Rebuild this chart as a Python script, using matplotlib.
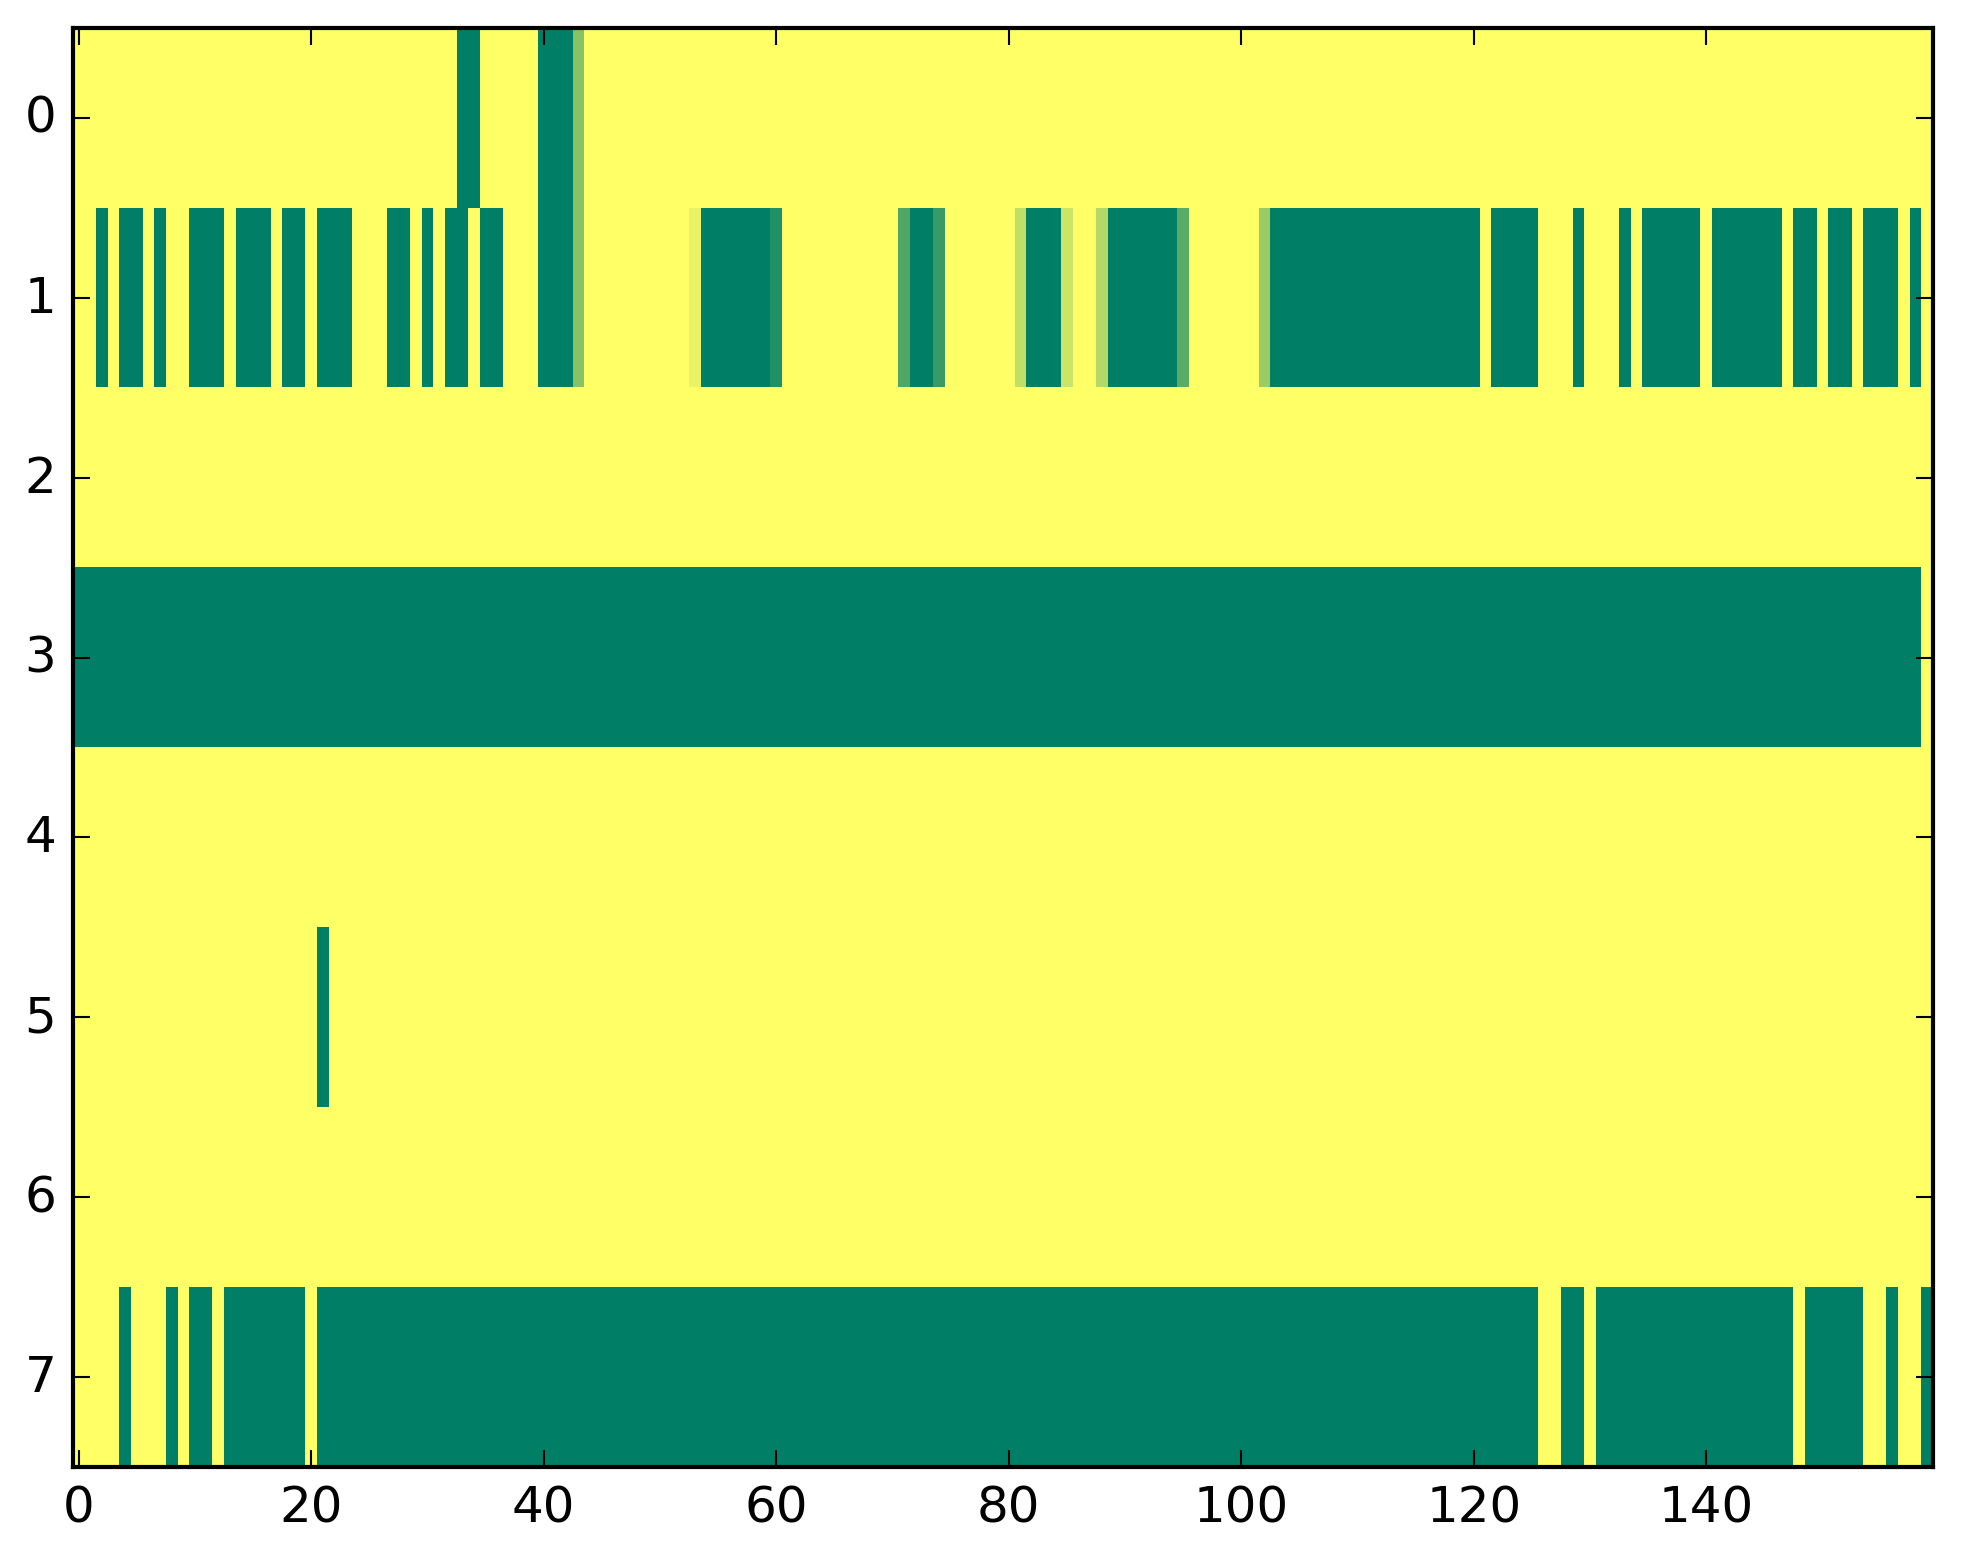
import numpy as np
import matplotlib
matplotlib.use("Agg")
import matplotlib.pyplot as plt

plt.style.use("classic")
plt.rcParams["font.family"] = ["DejaVu Sans"]

n_rows = 8
n_cols = 160

# Runs of full (value 1) cells per row: (first column, last column), inclusive
row0_runs = [(33, 34), (40, 42)]
row1_runs = [(2, 2), (4, 5), (7, 7), (10, 12), (14, 16), (18, 19), (21, 23),
             (27, 28), (30, 30), (32, 33), (35, 36), (40, 42), (54, 59),
             (72, 73), (82, 84), (89, 94), (103, 120), (122, 125), (129, 129),
             (133, 133), (135, 139), (141, 146), (148, 149), (151, 152),
             (154, 156), (158, 158)]
row2_runs = []
row3_runs = [(0, 158)]
row4_runs = []
row5_runs = [(21, 21)]
row6_runs = []
row7_runs = [(4, 4), (8, 8), (10, 11), (13, 19), (21, 125), (128, 129),
             (131, 147), (149, 153), (156, 156), (159, 159)]

# Partial-valued cells: (row, column) -> value
partial_cells = {
    (0, 43): 0.47, (1, 43): 0.47,
    (1, 53): 0.09, (1, 60): 0.87,
    (1, 71): 0.69, (1, 74): 0.78,
    (1, 81): 0.25, (1, 85): 0.20,
    (1, 88): 0.30, (1, 95): 0.65,
    (1, 102): 0.40,
}

all_runs = [row0_runs, row1_runs, row2_runs, row3_runs,
            row4_runs, row5_runs, row6_runs, row7_runs]

data = np.zeros((n_rows, n_cols))
for r, runs in enumerate(all_runs):
    for a, b in runs:
        data[r, a:b + 1] = 1.0
for (r, c), v in partial_cells.items():
    data[r, c] = v

fig = plt.figure(figsize=(1963 / 300, 1564 / 300), dpi=300)
ax = fig.add_axes([73 / 1963, 1 - 1468 / 1564, (1933 - 73) / 1963, (1468 - 29) / 1564])
ax.imshow(data, cmap="summer_r", vmin=0, vmax=1, aspect="auto",
          interpolation="nearest")
ax.set_xticks([0, 20, 40, 60, 80, 100, 120, 140])
ax.set_yticks(range(8))
fig.savefig("out.png", dpi=300)
